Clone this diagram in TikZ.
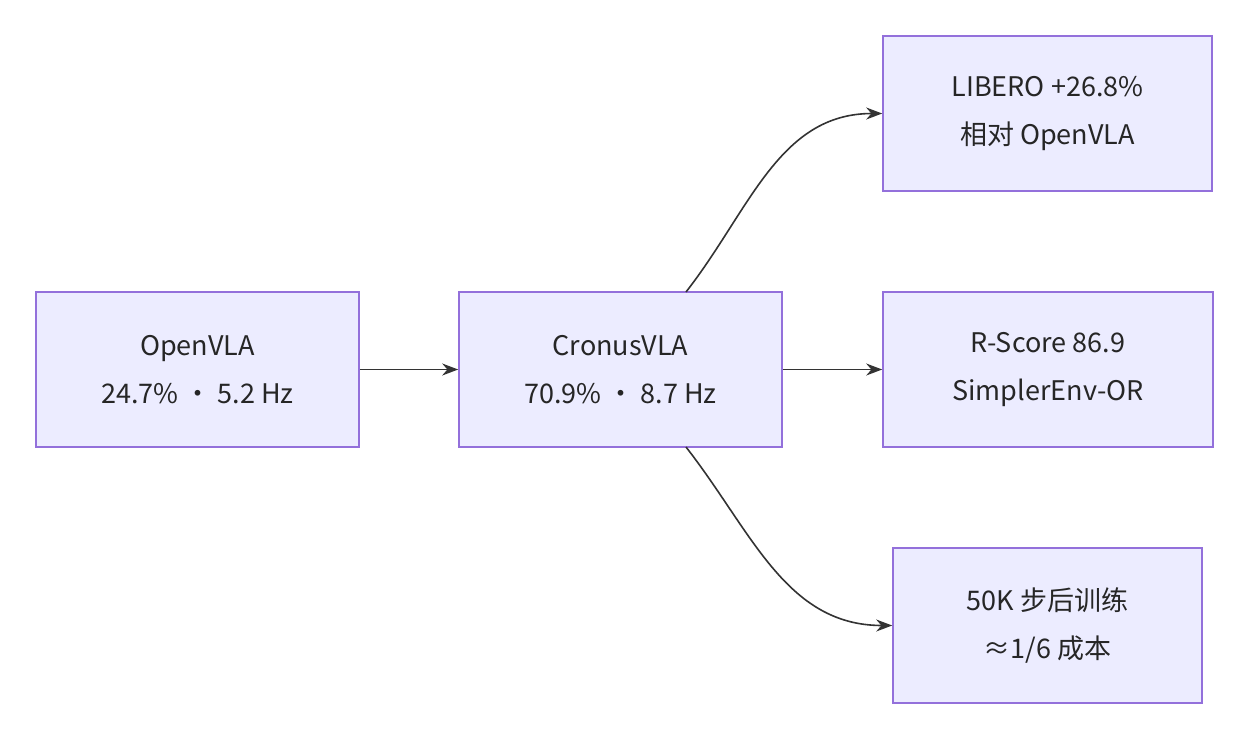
\documentclass[tikz,border=0pt]{standalone}
\usepackage{fontspec}
\setmainfont{Noto Sans CJK SC}
\usetikzlibrary{positioning,arrows.meta}
\definecolor{boxfill}{HTML}{ECECFF}
\definecolor{boxline}{HTML}{9370DB}
\definecolor{edge}{HTML}{333333}

\begin{document}
\begin{tikzpicture}[
    x=0.5pt, y=-0.5pt,
    box/.style={draw=boxline, fill=boxfill, line width=0.8pt, align=center,
      minimum height=77.5pt, inner sep=0pt, text=black!85,
      font=\fontsize{13.5pt}{24pt}\selectfont},
    link/.style={draw=edge, line width=0.8pt, -{Stealth[length=8pt,width=6pt]}}
]
  \useasboundingbox (0,0) rectangle (1250,740);

  % boxes
  \node[box, minimum width=161.5pt] (open) at (197.5,369.5) {OpenVLA\\24.7\% · 5.2 Hz};
  \node[box, minimum width=161.5pt] (cronus) at (620.5,369.5) {CronusVLA\\70.9\% · 8.7 Hz};
  \node[box, minimum width=164.5pt] (libero) at (1047.5,113.5) {LIBERO +26.8\%\\相对 OpenVLA};
  \node[box, minimum width=165pt] (rscore) at (1048,369.5) {R-Score 86.9\\SimplerEnv-OR};
  \node[box, minimum width=154.5pt] (cost) at (1047.5,625.5) {50K 步后训练\\≈1/6 成本};

  % edges
  \coordinate (ctop) at (686,292);
  \coordinate (cbot) at (686,447);
  \draw[link] (open) -- (cronus);
  \draw[link] (cronus) -- (rscore);
  \draw[link] (ctop) to[out=52, in=180] (libero.west);
  \draw[link] (cbot) to[out=-52, in=180] (cost.west);
\end{tikzpicture}
\end{document}
